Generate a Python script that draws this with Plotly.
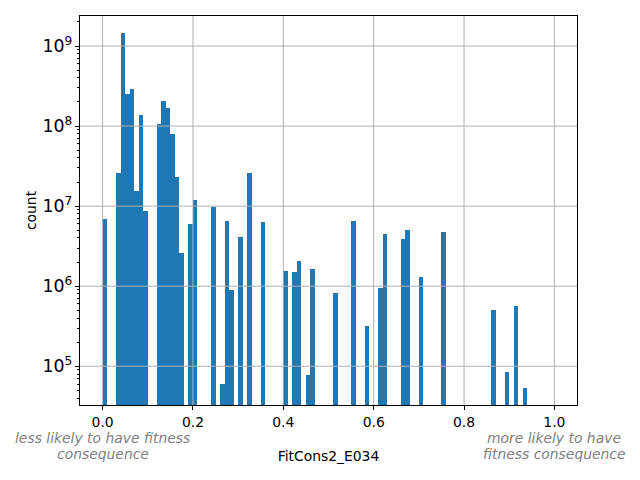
import plotly.graph_objects as go

# Histogram bins: left edge of each non-empty bin (bin width 0.01) and its count
bin_left = [0.00, 0.03, 0.04, 0.05, 0.06, 0.07, 0.08, 0.09,
            0.12, 0.13, 0.14, 0.15, 0.16, 0.17, 0.19, 0.20,
            0.24, 0.26, 0.27, 0.28, 0.30, 0.32, 0.35,
            0.40, 0.42, 0.43, 0.45, 0.46, 0.51, 0.55, 0.58,
            0.61, 0.62, 0.66, 0.67, 0.70, 0.75,
            0.86, 0.89, 0.91, 0.93]
counts = [6.9e6, 2.6e7, 1.45e9, 2.5e8, 2.9e8, 1.54e7, 1.37e8, 8.7e6,
          1.06e8, 2.05e8, 1.68e8, 7.9e7, 2.3e7, 2.6e6, 6.0e6, 1.2e7,
          9.8e6, 6.0e4, 6.5e6, 8.9e5, 4.1e6, 2.6e7, 6.3e6,
          1.55e6, 1.5e6, 2.05e6, 7.7e4, 1.63e6, 8.2e5, 6.5e6, 3.2e5,
          9.4e5, 4.5e6, 3.9e6, 5.0e6, 1.3e6, 4.7e6,
          5.0e5, 8.4e4, 5.6e5, 5.3e4]
bin_width = 0.01

x_ticks = [0.0, 0.2, 0.4, 0.6, 0.8, 1.0]
y_ticks = [1e5, 1e6, 1e7, 1e8, 1e9]

left_note = ["less likely to have fitness", "consequence"]
right_note = ["more likely to have", "fitness consequence"]

centers = [b + bin_width / 2 for b in bin_left]

fig = go.Figure()
fig.add_trace(go.Bar(
    x=centers, y=counts, width=[bin_width] * len(centers),
    marker=dict(color="#1f77b4", line=dict(width=0)),
    showlegend=False,
))

grid_color = "#b0b0b0"
shapes = []
for xv in x_ticks:
    shapes.append(dict(type="line", xref="x", yref="paper", x0=xv, x1=xv, y0=0, y1=1,
                       line=dict(color=grid_color, width=1), layer="above"))
for yv in y_ticks:
    shapes.append(dict(type="line", xref="paper", yref="y", x0=0, x1=1, y0=yv, y1=yv,
                       line=dict(color=grid_color, width=1), layer="above"))

font = dict(family="DejaVu Sans", size=13.9, color="black")
note_font = dict(family="DejaVu Sans", size=13.9, color="gray")

annotations = []
for xpos, lines in ((0.0, left_note), (1.0, right_note)):
    for i, line in enumerate(lines):
        annotations.append(dict(
            x=xpos, xref="x", y=0, yref="paper", yanchor="middle",
            yshift=-33 - 16 * i, text=f"<i>{line}</i>", showarrow=False,
            font=note_font, align="center"))

# page body adds an 8px offset; figure sized/margined to compensate
fig.update_layout(
    width=632, height=472,
    margin=dict(l=72, r=63, t=8, b=75, autoexpand=False),
    paper_bgcolor="white", plot_bgcolor="white",
    font=font,
    bargap=0,
    shapes=shapes,
    xaxis=dict(
        range=[-0.05, 1.05], tickvals=x_ticks, ticktext=[f"{v:.1f}" for v in x_ticks],
        showgrid=False, zeroline=False, automargin=False,
        showline=True, linecolor="black", linewidth=1, mirror=True,
        ticks="outside", ticklen=4, tickwidth=1, tickcolor="black",
        title=dict(text="FitCons2_E034", standoff=22, font=font),
    ),
    yaxis=dict(
        type="log", range=[4.516, 9.375], dtick=1, exponentformat="power",
        showgrid=False, zeroline=False, automargin=False,
        showline=True, linecolor="black", linewidth=1, mirror=True,
        ticks="outside", ticklen=4, tickwidth=1, tickcolor="black",
        minor=dict(dtick="D1", ticks="outside", ticklen=2, tickcolor="black", showgrid=False),
        title=dict(text="count", standoff=2, font=font),
    ),
    annotations=annotations,
)

fig.write_html("out.html")
